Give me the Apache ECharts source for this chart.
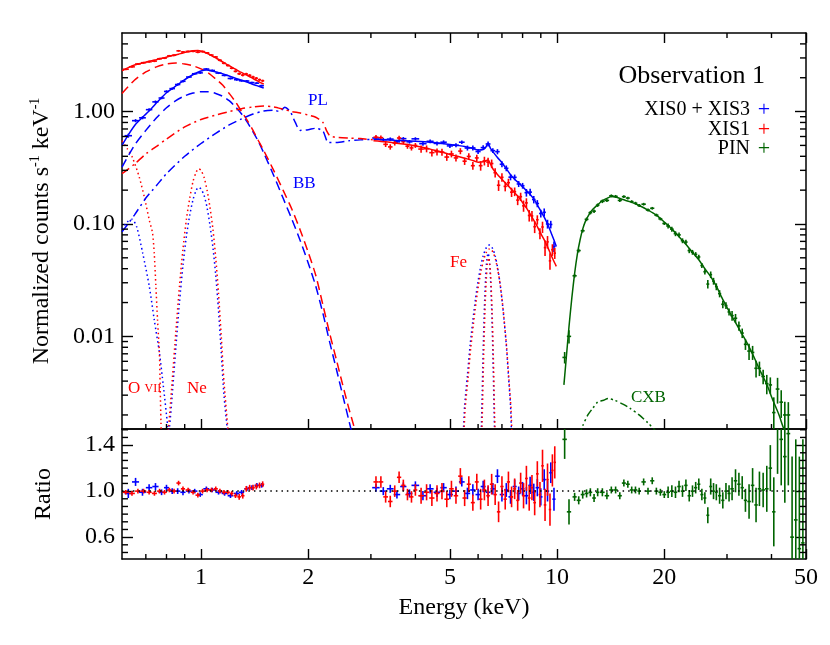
<!DOCTYPE html>
<html>
<head>
<meta charset="utf-8">
<script src="https://cdn.jsdelivr.net/npm/echarts@6/dist/echarts.min.js"></script>
<style>
html, body { margin: 0; padding: 0; background: #fff; }
#spectrum-chart { width: 830px; height: 645px; }
</style>
</head>
<body>
<div id="spectrum-chart"></div>
<script>
// axis ranges and tick positions
const xMajor = [1, 2, 5, 10, 20, 50];
const xMinor = [0.7, 0.8, 0.9, 3, 4, 6, 7, 8, 9, 30, 40];
const yMajor = [0.01, 0.1, 1];
const yMinor = [0.002, 0.003, 0.004, 0.005, 0.006, 0.007, 0.008, 0.009,
  0.02, 0.03, 0.04, 0.05, 0.06, 0.07, 0.08, 0.09,
  0.2, 0.3, 0.4, 0.5, 0.6, 0.7, 0.8, 0.9, 2, 3, 4];
const rMajor = [0.6, 1.0, 1.4];
const rMinor = [0.4667, 0.5333, 0.6667, 0.7333, 0.8, 0.8667, 0.9333,
  1.0667, 1.1333, 1.2, 1.2667, 1.3333, 1.4667, 1.5333];

// data bins: [energy, half width, counts, ratio, ratio error]
const xisBlueSoft = [
  [0.625, 0.015, 0.61, 0.98, 0.04], [0.655, 0.015, 0.83, 1.08, 0.035],
  [0.685, 0.015, 0.88, 0.99, 0.03], [0.715, 0.015, 1.04, 1.03, 0.03],
  [0.745, 0.015, 1.22, 1.04, 0.03], [0.775, 0.015, 1.32, 0.99, 0.025],
  [0.8, 0.013, 1.51, 1.03, 0.025], [0.83, 0.015, 1.6, 1.0, 0.025],
  [0.86, 0.015, 1.74, 1.0, 0.025], [0.89, 0.015, 1.86, 0.99, 0.025],
  [0.925, 0.017, 2.03, 1.0, 0.02], [0.96, 0.017, 2.17, 1.0, 0.02],
  [0.995, 0.017, 2.21, 0.97, 0.02], [1.035, 0.02, 2.39, 1.02, 0.02],
  [1.075, 0.02, 2.32, 1.01, 0.02], [1.12, 0.022, 2.2, 0.99, 0.02],
  [1.165, 0.022, 2.1, 0.98, 0.02], [1.21, 0.022, 1.97, 0.96, 0.02],
  [1.26, 0.022, 1.92, 0.98, 0.02], [1.3, 0.022, 1.88, 0.99, 0.02],
  [1.345, 0.022, 1.87, 1.02, 0.02], [1.39, 0.022, 1.81, 1.03, 0.02],
  [1.435, 0.022, 1.79, 1.05, 0.02], [1.48, 0.022, 1.7, 1.05, 0.02]
];
const xisRedSoft = [
  [0.615, 0.012, 2.38, 0.99, 0.02], [0.64, 0.012, 2.5, 0.98, 0.02],
  [0.665, 0.012, 2.65, 1.0, 0.02], [0.69, 0.012, 2.72, 1.0, 0.02],
  [0.715, 0.012, 2.77, 0.99, 0.02], [0.74, 0.012, 2.81, 0.98, 0.02],
  [0.765, 0.012, 2.95, 1.0, 0.02], [0.79, 0.012, 2.99, 0.99, 0.02],
  [0.815, 0.012, 3.13, 1.01, 0.02], [0.84, 0.012, 3.17, 1.0, 0.02],
  [0.865, 0.012, 3.47, 1.07, 0.02], [0.89, 0.012, 3.39, 1.02, 0.02],
  [0.92, 0.015, 3.43, 1.01, 0.02], [0.95, 0.015, 3.44, 0.99, 0.02],
  [0.98, 0.015, 3.38, 0.965, 0.02], [1.01, 0.015, 3.42, 1.0, 0.02],
  [1.04, 0.015, 3.33, 1.01, 0.02], [1.07, 0.015, 3.18, 1.01, 0.02],
  [1.1, 0.015, 3.06, 1.02, 0.02], [1.13, 0.015, 2.86, 1.0, 0.02],
  [1.16, 0.015, 2.69, 0.99, 0.02], [1.19, 0.015, 2.57, 0.99, 0.02],
  [1.22, 0.015, 2.43, 0.98, 0.02], [1.25, 0.015, 2.28, 0.96, 0.02],
  [1.28, 0.015, 2.17, 0.95, 0.025], [1.31, 0.015, 2.11, 0.96, 0.025],
  [1.34, 0.015, 2.16, 1.02, 0.025], [1.37, 0.015, 2.1, 1.03, 0.025],
  [1.4, 0.015, 2.03, 1.03, 0.025], [1.43, 0.015, 1.98, 1.04, 0.025],
  [1.46, 0.015, 1.92, 1.05, 0.025], [1.49, 0.015, 1.88, 1.06, 0.025]
];
const xisBlueHard = [
  [3.1, 0.075, 0.582, 1.03, 0.035], [3.25, 0.075, 0.562, 1.0, 0.035],
  [3.4, 0.075, 0.569, 1.02, 0.035], [3.55, 0.075, 0.538, 0.97, 0.035],
  [3.7, 0.075, 0.574, 1.04, 0.035], [3.85, 0.075, 0.538, 0.98, 0.035],
  [4.0, 0.1, 0.572, 1.05, 0.035], [4.2, 0.1, 0.518, 0.96, 0.04],
  [4.4, 0.1, 0.544, 1.02, 0.04], [4.6, 0.1, 0.521, 0.99, 0.04],
  [4.8, 0.1, 0.534, 1.03, 0.04], [5.0, 0.1, 0.495, 0.97, 0.04],
  [5.2, 0.1, 0.502, 1.0, 0.04], [5.4, 0.1, 0.534, 1.08, 0.04],
  [5.6, 0.1, 0.474, 0.98, 0.05], [5.8, 0.1, 0.475, 1.01, 0.05],
  [6.0, 0.1, 0.441, 0.97, 0.05], [6.2, 0.1, 0.478, 1.04, 0.05],
  [6.4, 0.1, 0.515, 0.99, 0.05], [6.6, 0.1, 0.449, 1.02, 0.05],
  [6.8, 0.1, 0.44, 1.13, 0.06], [7.0, 0.1, 0.34, 0.97, 0.06],
  [7.2, 0.1, 0.313, 1.01, 0.06], [7.4, 0.1, 0.261, 0.95, 0.06],
  [7.6, 0.1, 0.26, 1.04, 0.06], [7.8, 0.1, 0.227, 0.98, 0.06],
  [8.0, 0.1, 0.219, 1.02, 0.06], [8.2, 0.1, 0.19, 0.96, 0.075],
  [8.4, 0.1, 0.192, 1.05, 0.075], [8.6, 0.1, 0.165, 0.99, 0.075],
  [8.8, 0.1, 0.152, 1.03, 0.075], [9.0, 0.1, 0.124, 0.95, 0.075],
  [9.2, 0.1, 0.127, 1.1, 0.09], [9.4, 0.1, 0.1, 1.0, 0.09],
  [9.6, 0.1, 0.099, 1.16, 0.09], [9.8, 0.1, 0.063, 0.93, 0.1]
];
const xisRedHard = [
  [3.1, 0.05, 0.592, 1.08, 0.05], [3.2, 0.05, 0.586, 1.08, 0.05],
  [3.3, 0.05, 0.511, 0.95, 0.05], [3.4, 0.05, 0.485, 0.91, 0.05],
  [3.5, 0.05, 0.525, 1.0, 0.05], [3.6, 0.05, 0.582, 1.12, 0.05],
  [3.7, 0.05, 0.54, 1.05, 0.05], [3.8, 0.05, 0.492, 0.97, 0.05],
  [3.9, 0.05, 0.475, 0.95, 0.05], [4.0, 0.05, 0.5, 1.01, 0.05],
  [4.15, 0.075, 0.464, 0.96, 0.07], [4.3, 0.075, 0.467, 0.99, 0.07],
  [4.45, 0.075, 0.431, 0.94, 0.07], [4.6, 0.075, 0.439, 0.98, 0.07],
  [4.75, 0.075, 0.436, 1.0, 0.07], [4.9, 0.075, 0.394, 0.93, 0.07],
  [5.05, 0.075, 0.42, 1.02, 0.07], [5.2, 0.075, 0.387, 0.96, 0.07],
  [5.35, 0.075, 0.445, 1.13, 0.07], [5.5, 0.075, 0.362, 0.94, 0.07],
  [5.65, 0.075, 0.399, 1.06, 0.07], [5.8, 0.075, 0.33, 0.9, 0.07],
  [5.95, 0.075, 0.387, 1.08, 0.07], [6.1, 0.075, 0.33, 0.93, 0.09],
  [6.25, 0.075, 0.364, 1.01, 0.09], [6.4, 0.075, 0.355, 0.96, 0.09],
  [6.55, 0.075, 0.345, 1.06, 0.09], [6.7, 0.075, 0.286, 0.97, 0.09],
  [6.85, 0.075, 0.221, 0.82, 0.09], [7.0, 0.075, 0.26, 1.04, 0.09],
  [7.15, 0.075, 0.216, 0.93, 0.09], [7.3, 0.075, 0.233, 1.08, 0.09],
  [7.45, 0.075, 0.192, 0.95, 0.09], [7.6, 0.075, 0.194, 1.02, 0.09],
  [7.75, 0.075, 0.163, 0.92, 0.09], [7.9, 0.075, 0.175, 1.07, 0.09],
  [8.05, 0.075, 0.145, 0.96, 0.11], [8.2, 0.075, 0.154, 1.11, 0.11],
  [8.35, 0.075, 0.119, 0.94, 0.11], [8.5, 0.075, 0.118, 1.03, 0.11],
  [8.65, 0.075, 0.0945, 0.9, 0.11], [8.8, 0.075, 0.109, 1.15, 0.11],
  [8.95, 0.075, 0.0825, 0.97, 0.11], [9.1, 0.075, 0.094, 1.22, 0.14],
  [9.25, 0.075, 0.0616, 0.88, 0.14], [9.4, 0.075, 0.0693, 1.1, 0.14],
  [9.55, 0.075, 0.047, 0.84, 0.14], [9.7, 0.075, 0.059, 1.18, 0.14],
  [9.85, 0.075, 0.055, 1.25, 0.14]
];
const pinData = [
  [10.5, 0.15, 0.0065, 1.45, 0.17], [10.8, 0.15, 0.0100, 0.82, 0.11],
  [11.2, 0.15, 0.0346, 0.95, 0.035], [11.5, 0.15, 0.058, 0.92, 0.035],
  [11.8, 0.15, 0.087, 0.97, 0.035], [12.1, 0.15, 0.110, 0.98, 0.035],
  [12.4, 0.15, 0.126, 0.99, 0.035], [12.7, 0.15, 0.130, 0.94, 0.035],
  [13.0, 0.15, 0.147, 0.99, 0.035], [13.4, 0.2, 0.159, 0.99, 0.035],
  [13.8, 0.2, 0.162, 0.96, 0.03], [14.2, 0.2, 0.178, 1.01, 0.03],
  [14.6, 0.2, 0.176, 1.01, 0.03], [15.0, 0.2, 0.162, 0.96, 0.03],
  [15.4, 0.2, 0.175, 1.07, 0.03], [15.8, 0.2, 0.170, 1.06, 0.03],
  [16.2, 0.2, 0.158, 1.01, 0.03], [16.6, 0.2, 0.153, 1.01, 0.03],
  [17.0, 0.2, 0.146, 1.0, 0.03], [17.5, 0.25, 0.150, 1.08, 0.03],
  [18.0, 0.25, 0.133, 1.0, 0.03], [18.5, 0.25, 0.138, 1.09, 0.03],
  [19.0, 0.25, 0.120, 1.0, 0.03], [19.5, 0.25, 0.111, 0.99, 0.03],
  [20.0, 0.25, 0.101, 0.97, 0.03], [20.5, 0.25, 0.096, 0.99, 0.05],
  [21.0, 0.25, 0.090, 1.0, 0.05], [21.5, 0.25, 0.082, 0.99, 0.05],
  [22.0, 0.25, 0.080, 1.04, 0.05], [22.5, 0.25, 0.071, 1.0, 0.05],
  [23.0, 0.25, 0.069, 1.05, 0.05], [23.5, 0.25, 0.058, 0.96, 0.05],
  [24.0, 0.25, 0.056, 1.0, 0.05], [24.5, 0.25, 0.0536, 1.03, 0.05],
  [25.0, 0.25, 0.0509, 1.06, 0.05], [25.5, 0.25, 0.0427, 0.97, 0.05],
  [26.0, 0.25, 0.0376, 0.94, 0.05], [26.5, 0.25, 0.0292, 0.79, 0.07],
  [27.0, 0.25, 0.0354, 1.04, 0.07], [27.5, 0.25, 0.031, 1.0, 0.07],
  [28.0, 0.25, 0.0277, 0.99, 0.07], [28.6, 0.3, 0.024, 0.96, 0.07],
  [29.2, 0.3, 0.0193, 0.92, 0.07], [29.8, 0.3, 0.0188, 1.0, 0.07],
  [30.4, 0.3, 0.0165, 0.98, 0.07], [31.0, 0.35, 0.0153, 1.02, 0.1],
  [31.7, 0.35, 0.0145, 1.09, 0.1], [32.4, 0.35, 0.0124, 1.06, 0.1],
  [33.1, 0.35, 0.0107, 1.03, 0.1], [33.8, 0.35, 0.0085, 0.92, 0.1],
  [34.6, 0.4, 0.0074, 0.91, 0.15], [35.4, 0.4, 0.0072, 1.05, 0.15],
  [36.2, 0.4, 0.0052, 0.88, 0.15], [37.0, 0.4, 0.0052, 1.02, 0.15],
  [37.9, 0.45, 0.0044, 1.01, 0.15], [38.8, 0.45, 0.0038, 1.02, 0.2],
  [39.7, 0.45, 0.0037, 1.2, 0.2], [40.6, 0.45, 0.0021, 0.82, 0.3],
  [41.6, 0.5, 0.0034, 1.55, 0.4], [42.6, 0.5, 0.0026, 1.45, 0.4],
  [43.6, 0.5, 0.002, 1.3, 0.4], [44.6, 0.55, 0.002, 1.5, 0.45],
  [45.7, 0.55, 0.00066, 0.6, 0.7], [46.8, 0.55, 0.0007, 0.75, 0.7],
  [47.9, 0.55, 0.0004, 0.5, 0.8], [49.0, 0.55, 0.0004, 0.55, 0.9]
];

// model curves: [energy, counts]
const blueModelSoft = [[0.6, 0.5], [0.625, 0.62], [0.655, 0.77], [0.685, 0.89], [0.715, 1.01],
  [0.745, 1.17], [0.775, 1.33], [0.8, 1.47], [0.83, 1.6], [0.86, 1.74], [0.89, 1.88],
  [0.925, 2.03], [0.96, 2.17], [0.995, 2.28], [1.035, 2.34], [1.075, 2.3], [1.12, 2.22],
  [1.165, 2.14], [1.21, 2.05], [1.26, 1.96], [1.3, 1.9], [1.345, 1.83], [1.39, 1.76],
  [1.435, 1.7], [1.5, 1.62]];
const redModelSoft = [[0.6, 2.3], [0.615, 2.4], [0.64, 2.55], [0.665, 2.65], [0.69, 2.72],
  [0.715, 2.8], [0.74, 2.87], [0.765, 2.95], [0.79, 3.02], [0.815, 3.1], [0.84, 3.17],
  [0.865, 3.24], [0.89, 3.32], [0.92, 3.4], [0.95, 3.47], [0.98, 3.5], [1.01, 3.42],
  [1.04, 3.3], [1.07, 3.15], [1.1, 3.0], [1.13, 2.86], [1.16, 2.72], [1.19, 2.6],
  [1.22, 2.48], [1.25, 2.38], [1.28, 2.28], [1.31, 2.2], [1.34, 2.12], [1.37, 2.04],
  [1.4, 1.97], [1.43, 1.9], [1.46, 1.83], [1.5, 1.76]];
const blueModelHard = [[3.05, 0.567], [3.25, 0.562], [3.5, 0.556], [3.75, 0.551], [4.0, 0.545],
  [4.25, 0.538], [4.5, 0.53], [4.75, 0.52], [5.0, 0.51], [5.25, 0.5], [5.5, 0.49],
  [5.75, 0.474], [6.0, 0.455], [6.2, 0.46], [6.3, 0.48], [6.4, 0.52], [6.5, 0.47],
  [6.6, 0.44], [6.8, 0.39], [7.0, 0.35], [7.2, 0.31], [7.4, 0.275], [7.6, 0.25],
  [7.8, 0.232], [8.0, 0.215], [8.2, 0.198], [8.4, 0.183], [8.6, 0.167], [8.8, 0.148],
  [9.0, 0.13], [9.2, 0.115], [9.4, 0.1], [9.6, 0.085], [9.8, 0.072], [9.95, 0.063]];
const redModelHard = [[3.05, 0.55], [3.3, 0.538], [3.5, 0.525], [3.75, 0.511], [4.0, 0.495],
  [4.25, 0.476], [4.5, 0.455], [4.75, 0.436], [5.0, 0.415], [5.25, 0.4], [5.5, 0.385],
  [5.75, 0.37], [6.0, 0.355], [6.2, 0.357], [6.4, 0.37], [6.5, 0.34], [6.6, 0.31],
  [6.8, 0.275], [7.0, 0.25], [7.25, 0.222], [7.5, 0.198], [7.75, 0.177], [8.0, 0.155],
  [8.25, 0.135], [8.5, 0.115], [8.75, 0.098], [9.0, 0.082], [9.25, 0.07], [9.5, 0.058],
  [9.75, 0.048], [9.95, 0.042]];
const pinModel = [[10.45, 0.0037], [10.6, 0.0062], [10.8, 0.0122], [11.0, 0.022], [11.2, 0.0364],
  [11.4, 0.054], [11.6, 0.072], [11.8, 0.09], [12.0, 0.105], [12.3, 0.122], [12.6, 0.135],
  [13.0, 0.148], [13.4, 0.161], [13.8, 0.169], [14.2, 0.176], [14.6, 0.174], [15.3, 0.165],
  [16.0, 0.158], [17.0, 0.146], [18.0, 0.133], [19.0, 0.12], [20.0, 0.104], [21.0, 0.09],
  [22.0, 0.077], [23.0, 0.066], [24.0, 0.056], [25.0, 0.048], [26.0, 0.04], [27.0, 0.034],
  [28.0, 0.028], [29.0, 0.0222], [30.0, 0.0181], [31.0, 0.015], [32.0, 0.0126],
  [33.0, 0.0106], [34.0, 0.009], [35.0, 0.0075], [36.0, 0.0062], [37.0, 0.0051],
  [38.0, 0.0043], [39.0, 0.0036], [40.0, 0.0029], [41.0, 0.0024], [42.0, 0.002],
  [43.0, 0.0016], [44.0, 0.0013]];

// model components
const bbRed = [[0.6, 1.45], [0.65, 1.9], [0.7, 2.25], [0.75, 2.5], [0.8, 2.65], [0.85, 2.7],
  [0.9, 2.65], [0.95, 2.55], [1.0, 2.4], [1.05, 2.2], [1.1, 1.95], [1.15, 1.72], [1.2, 1.45],
  [1.25, 1.22], [1.3, 1.0], [1.35, 0.83], [1.4, 0.68], [1.45, 0.55], [1.5, 0.45], [1.6, 0.3],
  [1.7, 0.2], [1.8, 0.135], [1.9, 0.088], [2.0, 0.056], [2.1, 0.035], [2.2, 0.019],
  [2.3, 0.0105], [2.4, 0.0062], [2.5, 0.0037], [2.6, 0.0023], [2.7, 0.0015], [2.8, 0.0009]];
const bbBlue = [[0.6, 0.32], [0.65, 0.5], [0.7, 0.68], [0.75, 0.88], [0.8, 1.08], [0.85, 1.25],
  [0.9, 1.38], [0.95, 1.46], [1.0, 1.5], [1.05, 1.5], [1.1, 1.45], [1.15, 1.37], [1.2, 1.25],
  [1.25, 1.1], [1.3, 0.95], [1.35, 0.8], [1.4, 0.66], [1.45, 0.54], [1.5, 0.43], [1.6, 0.27],
  [1.7, 0.17], [1.8, 0.11], [1.9, 0.071], [2.0, 0.045], [2.1, 0.028], [2.2, 0.016],
  [2.3, 0.0088], [2.4, 0.0051], [2.5, 0.003], [2.6, 0.0018], [2.7, 0.0011]];
const plRed = [[0.6, 0.28], [0.65, 0.34], [0.7, 0.42], [0.75, 0.49], [0.8, 0.57], [0.9, 0.73],
  [1.0, 0.85], [1.1, 0.93], [1.2, 1.0], [1.3, 1.06], [1.4, 1.1], [1.5, 1.12], [1.6, 1.1],
  [1.7, 1.05], [1.8, 1.0], [1.9, 0.97], [2.0, 0.93], [2.1, 0.89], [2.2, 0.8], [2.25, 0.68],
  [2.3, 0.61], [2.4, 0.59], [2.6, 0.58], [2.8, 0.575], [3.05, 0.56]];
const plBlue = [[0.6, 0.085], [0.65, 0.12], [0.7, 0.17], [0.75, 0.22], [0.8, 0.28], [0.9, 0.4],
  [1.0, 0.52], [1.1, 0.64], [1.2, 0.76], [1.3, 0.86], [1.4, 0.95], [1.5, 1.01], [1.6, 1.03],
  [1.66, 1.0], [1.72, 1.09], [1.78, 1.0], [1.84, 0.8], [1.9, 0.68], [2.0, 0.69], [2.1, 0.71],
  [2.2, 0.67], [2.28, 0.53], [2.4, 0.53], [2.6, 0.55], [2.8, 0.56], [3.05, 0.565]];
const o7Red = [[0.6, 0.55], [0.62, 0.47], [0.642, 0.39], [0.671, 0.26], [0.693, 0.174],
  [0.716, 0.108], [0.731, 0.083], [0.739, 0.055], [0.747, 0.028], [0.755, 0.014],
  [0.764, 0.0072], [0.768, 0.0036], [0.772, 0.0017], [0.775, 0.0012]];
const o7Blue = [[0.6, 0.09], [0.62, 0.104], [0.64, 0.11], [0.66, 0.094], [0.686, 0.055],
  [0.716, 0.0277], [0.739, 0.0141], [0.764, 0.0072], [0.784, 0.0036], [0.806, 0.0016],
  [0.812, 0.0012]];
const neRed = [[0.8, 0.0011], [0.81, 0.0015], [0.83, 0.004], [0.85, 0.011], [0.87, 0.028],
  [0.89, 0.06], [0.91, 0.11], [0.93, 0.17], [0.95, 0.24], [0.97, 0.29], [0.985, 0.31],
  [1.0, 0.3], [1.02, 0.26], [1.04, 0.2], [1.06, 0.14], [1.08, 0.09], [1.1, 0.05],
  [1.12, 0.024], [1.14, 0.01], [1.16, 0.004], [1.19, 0.0015], [1.2, 0.0011]];
const neBlue = [[0.805, 0.0011], [0.815, 0.0015], [0.83, 0.003], [0.85, 0.008], [0.87, 0.02],
  [0.89, 0.043], [0.91, 0.078], [0.93, 0.12], [0.95, 0.165], [0.97, 0.2], [0.985, 0.212],
  [1.0, 0.205], [1.02, 0.18], [1.04, 0.14], [1.06, 0.097], [1.08, 0.062], [1.1, 0.035],
  [1.12, 0.017], [1.14, 0.0072], [1.16, 0.003], [1.185, 0.0015], [1.195, 0.0011]];
const feWideBlue = [[5.45, 0.0013], [5.5, 0.0024], [5.6, 0.0045], [5.7, 0.0084], [5.8, 0.0138],
  [5.9, 0.0215], [6.0, 0.031], [6.1, 0.0416], [6.2, 0.052], [6.3, 0.06], [6.4, 0.0645],
  [6.45, 0.065], [6.5, 0.0645], [6.6, 0.06], [6.7, 0.052], [6.8, 0.0416], [6.9, 0.031],
  [7.0, 0.0215], [7.1, 0.0138], [7.2, 0.0084], [7.3, 0.0045], [7.4, 0.0024], [7.45, 0.0013]];
const feWideRed = [[5.47, 0.0013], [5.52, 0.0023], [5.62, 0.0042], [5.72, 0.0078], [5.82, 0.0128],
  [5.92, 0.02], [6.02, 0.029], [6.12, 0.0385], [6.22, 0.048], [6.32, 0.0555], [6.42, 0.0597],
  [6.47, 0.06], [6.52, 0.0597], [6.62, 0.0555], [6.72, 0.048], [6.82, 0.0385], [6.92, 0.029],
  [7.02, 0.02], [7.12, 0.0128], [7.22, 0.0078], [7.32, 0.0042], [7.42, 0.0023], [7.47, 0.0013]];
const feNarrowBlue = [[6.12, 0.0013], [6.15, 0.0024], [6.2, 0.0074], [6.25, 0.0179], [6.3, 0.0334],
  [6.35, 0.0485], [6.4, 0.055], [6.45, 0.0485], [6.5, 0.0334], [6.55, 0.0179], [6.6, 0.0074],
  [6.65, 0.0024], [6.68, 0.0013]];
const feNarrowRed = [[6.14, 0.0013], [6.17, 0.0022], [6.22, 0.0067], [6.27, 0.0163], [6.32, 0.0304],
  [6.37, 0.0441], [6.42, 0.05], [6.47, 0.0441], [6.52, 0.0304], [6.57, 0.0163], [6.62, 0.0067],
  [6.67, 0.0022], [6.7, 0.0013]];
const cxbModel = [[11.5, 0.0013], [11.8, 0.0016], [12.2, 0.002], [12.6, 0.0023], [13.0, 0.0026],
  [13.5, 0.0027], [13.9, 0.0028], [14.5, 0.0027], [15.3, 0.0025], [16.0, 0.0023], [17.0, 0.002],
  [18.0, 0.0017], [18.7, 0.0015], [19.5, 0.0013]];
const unityLine = [[0.6, 1], [50, 1]];

const FONT = 'Liberation Serif';
const BLUE = '#0000ff';
const RED = '#ff0000';
const GREEN = '#006400';

function xAx(gridIndex, position, ticks, extra) {
  return Object.assign({
    type: 'log', logBase: 10, gridIndex: gridIndex, position: position,
    min: 0.6, max: 50,
    axisLine: { show: true, onZero: false, lineStyle: { color: '#000', width: 1.5 } },
    axisTick: { show: ticks.length > 0, inside: true, length: 10, customValues: ticks,
      lineStyle: { color: '#000', width: 1.4 } },
    axisLabel: { show: false },
    splitLine: { show: false }
  }, extra || {});
}

function yAx(gridIndex, position, isLog, ticks, extra) {
  const ax = {
    type: isLog ? 'log' : 'value', gridIndex: gridIndex, position: position,
    min: isLog ? 0.0015 : 0.41, max: isLog ? 5 : 1.54,
    axisLine: { show: true, onZero: false, lineStyle: { color: '#000', width: 1.5 } },
    axisTick: { show: true, inside: true, length: 11, customValues: ticks,
      lineStyle: { color: '#000', width: 1.4 } },
    axisLabel: { show: false },
    splitLine: { show: false }
  };
  if (isLog) ax.logBase = 10;
  return Object.assign(ax, extra || {});
}

// short ticks on the frame, placed through the axis scales
function minorTicks(values, dim, grid, anchor, len, bothSides) {
  return {
    type: 'custom', clip: false, silent: true, z: 5,
    xAxisIndex: grid === 0 ? 0 : 2, yAxisIndex: grid === 0 ? 0 : 2,
    data: values.map(function (v) { return dim === 'x' ? [v, anchor] : [anchor, v]; }),
    encode: { x: 0, y: 1 },
    renderItem: function (params, api) {
      const cs = params.coordSys;
      const p = api.coord([api.value(0), api.value(1)]);
      const st = { stroke: '#000', lineWidth: 1.4 };
      const kids = [];
      if (dim === 'x') {
        const yb = cs.y + cs.height;
        kids.push({ type: 'line', shape: { x1: p[0], y1: yb, x2: p[0], y2: yb - len }, style: st });
        if (bothSides) kids.push({ type: 'line', shape: { x1: p[0], y1: cs.y, x2: p[0], y2: cs.y + len }, style: st });
      } else {
        const xr = cs.x + cs.width;
        kids.push({ type: 'line', shape: { x1: cs.x, y1: p[1], x2: cs.x + len, y2: p[1] }, style: st });
        if (bothSides) kids.push({ type: 'line', shape: { x1: xr, y1: p[1], x2: xr - len, y2: p[1] }, style: st });
      }
      return { type: 'group', children: kids };
    }
  };
}

function modelLine(data, color, dash, ai) {
  return {
    type: 'line', data: data, xAxisIndex: ai || 0, yAxisIndex: ai || 0,
    showSymbol: false, symbol: 'none', smooth: 0.25, clip: true, silent: true,
    lineStyle: { color: color, width: 1.5, type: dash }
  };
}

function crosses(rows, color, panel) {
  const flux = panel === 'flux';
  return {
    type: 'custom', data: rows, clip: true, silent: true,
    xAxisIndex: flux ? 0 : 2, yAxisIndex: flux ? 0 : 2,
    encode: { x: 0, y: flux ? 2 : 3 },
    renderItem: function (params, api) {
      const e = api.value(0), de = api.value(1);
      let v, err, lo;
      if (flux) {
        v = api.value(2);
        err = v * api.value(4) / api.value(3);
        lo = Math.max(v - err, 1e-6);
      } else {
        v = api.value(3);
        err = api.value(4);
        lo = v - err;
      }
      const l = api.coord([e - de, v]), r = api.coord([e + de, v]);
      const t = api.coord([e, v + err]), b = api.coord([e, lo]);
      const st = { stroke: color, lineWidth: 1.6 };
      return {
        type: 'group', children: [
          { type: 'line', shape: { x1: l[0], y1: l[1], x2: r[0], y2: r[1] }, style: st },
          { type: 'line', shape: { x1: t[0], y1: t[1], x2: b[0], y2: b[1] }, style: st }
        ]
      };
    }
  };
}

function label(text, x, y, color, size, align, rich) {
  return {
    type: 'text', x: x, y: y, silent: true,
    style: { text: text, fill: color, font: size + 'px "' + FONT + '"',
      align: align || 'left', verticalAlign: 'middle', rich: rich }
  };
}

const chart = echarts.init(document.getElementById('spectrum-chart'));

const DASH = [9, 5];
const DASHDOT = [9, 4, 2, 4];
const DOT = [1.5, 3];
const DASHDOTDOT = [8, 3, 2, 3, 2, 3];

const option = {
  animation: false,
  backgroundColor: '#fff',
  textStyle: { fontFamily: FONT },
  grid: [
    { left: 122, top: 33, width: 684, height: 396, containLabel: false, outerBoundsMode: 'none' },
    { left: 122, top: 429, width: 684, height: 130, containLabel: false, outerBoundsMode: 'none' }
  ],
  xAxis: [
    xAx(0, 'bottom', xMajor),
    xAx(0, 'top', xMajor),
    xAx(1, 'bottom', xMajor, {
      name: 'Energy (keV)', nameLocation: 'middle', nameGap: 37,
      nameTextStyle: { fontFamily: FONT, fontSize: 24, color: '#000' },
      axisLabel: { show: true, customValues: xMajor, margin: 7, color: '#000',
        fontFamily: FONT, fontSize: 24, formatter: function (v) { return String(v); } }
    }),
    xAx(1, 'top', [])
  ],
  yAxis: [
    yAx(0, 'left', true, yMajor, {
      name: 'Normalized counts s{sup|-1} keV{sup|-1}', nameLocation: 'middle', nameGap: 66,
      nameTextStyle: { fontFamily: FONT, fontSize: 24, color: '#000', lineHeight: 28,
        rich: { sup: { fontFamily: FONT, fontSize: 14, verticalAlign: 'top', lineHeight: 28 } } },
      axisLabel: { show: true, customValues: yMajor, margin: 7, color: '#000',
        fontFamily: FONT, fontSize: 24, formatter: function (v) { return v.toFixed(2); } }
    }),
    yAx(0, 'right', true, yMajor),
    yAx(1, 'left', false, rMajor, {
      name: 'Ratio', nameLocation: 'middle', nameGap: 66,
      nameTextStyle: { fontFamily: FONT, fontSize: 24, color: '#000' },
      axisLabel: { show: true, customValues: rMajor, margin: 7, color: '#000',
        fontFamily: FONT, fontSize: 24, formatter: function (v) { return v.toFixed(1); } }
    }),
    yAx(1, 'right', false, rMajor)
  ],
  series: [
    // frame minor ticks
    minorTicks(xMinor, 'x', 0, 1, 5, true),
    minorTicks(yMinor, 'y', 0, 1, 6, true),
    minorTicks(xMinor, 'x', 1, 1, 5, false),
    minorTicks(rMinor, 'y', 1, 1, 6, true),
    // ratio reference
    modelLine(unityLine, '#000', [1.5, 4], 2),
    // line components
    modelLine(o7Blue, BLUE, DOT), modelLine(o7Red, RED, DOT),
    modelLine(neBlue, BLUE, DOT), modelLine(neRed, RED, DOT),
    modelLine(feWideBlue, BLUE, DOT), modelLine(feWideRed, RED, DOT),
    modelLine(feNarrowBlue, BLUE, DOT), modelLine(feNarrowRed, RED, DOT),
    // continuum components
    modelLine(bbBlue, BLUE, DASH), modelLine(bbRed, RED, DASH),
    modelLine(plBlue, BLUE, DASHDOT), modelLine(plRed, RED, DASHDOT),
    modelLine(cxbModel, GREEN, DASHDOTDOT),
    // data
    crosses(xisBlueSoft, BLUE, 'flux'), crosses(xisBlueHard, BLUE, 'flux'),
    crosses(xisRedSoft, RED, 'flux'), crosses(xisRedHard, RED, 'flux'),
    crosses(pinData, GREEN, 'flux'),
    // total models
    modelLine(blueModelSoft, BLUE, 'solid'), modelLine(blueModelHard, BLUE, 'solid'),
    modelLine(redModelSoft, RED, 'solid'), modelLine(redModelHard, RED, 'solid'),
    modelLine(pinModel, GREEN, 'solid'),
    // ratios
    crosses(xisBlueSoft, BLUE, 'ratio'), crosses(xisBlueHard, BLUE, 'ratio'),
    crosses(xisRedSoft, RED, 'ratio'), crosses(xisRedHard, RED, 'ratio'),
    crosses(pinData, GREEN, 'ratio')
  ],
  graphic: [
    label('Observation 1', 765, 76, '#000', 26, 'right'),
    label('XIS0 + XIS3', 750, 110, '#000', 20, 'right'),
    label('XIS1', 750, 130, '#000', 20, 'right'),
    label('PIN', 750, 149, '#000', 20, 'right'),
    label('+', 764, 110, BLUE, 22, 'center'),
    label('+', 764, 130, RED, 22, 'center'),
    label('+', 764, 149, GREEN, 22, 'center'),
    label('PL', 308, 101, BLUE, 17),
    label('BB', 293, 184, BLUE, 17),
    label('Fe', 450, 263, RED, 17),
    label('CXB', 631, 398, GREEN, 17),
    label('Ne', 187, 389, RED, 17),
    label('O {s|VII}', 128, 389, RED, 17, 'left',
      { s: { fontFamily: FONT, fontSize: 12, fill: RED, color: RED } })
  ]
};

chart.setOption(option);
</script>
</body>
</html>
